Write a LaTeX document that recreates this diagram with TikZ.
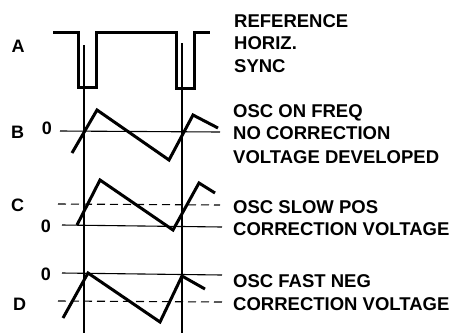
\documentclass[tikz,border=0pt]{standalone}
\usepackage{fontspec}
\setmainfont{Liberation Sans}
\begin{document}
\begin{tikzpicture}[x=1pt, y=-1pt,
    wave/.style={line width=3pt, line join=miter},
    axis/.style={line width=1.1pt},
    level/.style={line width=1.1pt, dash pattern=on 8pt off 5pt},
    lbl/.style={font=\bfseries\fontsize{18}{20}\selectfont, inner sep=0pt},
    txt/.style={lbl, font=\bfseries\fontsize{18.5}{20}\selectfont, anchor=base west}]
  \useasboundingbox (0,0) rectangle (455,333);
  % sync instants
  \draw[axis] (84,45) -- (84,333);
  \draw[axis] (182,43) -- (182,333);
  % A: reference horizontal sync
  \draw[wave] (53,32) -- (78,32) -- (78,87) -- (96,87) -- (96,32) -- (176,32)
    -- (176,88) -- (194,88) -- (194,32) -- (210,32);
  % B: on frequency
  \draw[axis] (60,131) -- (220,132);
  \draw[wave] (72,153) -- (97,110) -- (169,160) -- (193,115) -- (218,128);
  % C: slow
  \draw[level] (58,204) -- (220,205);
  \draw[axis] (62,225) -- (222,227);
  \draw[wave] (77,225) -- (100,180) -- (173,230) -- (199,183) -- (215,193);
  % D: fast
  \draw[axis] (62,273) -- (222,275);
  \draw[level] (58,301) -- (222,302);
  \draw[wave] (63,318) -- (88,273) -- (160,322) -- (182,276) -- (205,289);
  % row letters and zeros
  \node[lbl] (labA) at (18,46) {A};
  \node[lbl] (labB) at (17.5,132) {B};
  \node[lbl] (labC) at (17.5,205) {C};
  \node[lbl] (labD) at (19.5,304) {D};
  \node[lbl] (zeroB) at (47,128) {0};
  \node[lbl] (zeroC) at (46,226) {0};
  \node[lbl] (zeroD) at (46,274) {0};
  % captions
  \node[txt] (capA1) at (234,27) {REFERENCE};
  \node[txt] (capA2) at (234,49) {HORIZ.};
  \node[txt] (capA3) at (234,72) {SYNC};
  \node[txt] (capB1) at (233,117) {OSC ON FREQ};
  \node[txt] (capB2) at (233,139) {NO CORRECTION};
  \node[txt] (capB3) at (233,163) {VOLTAGE DEVELOPED};
  \node[txt] (capC1) at (233,213) {OSC SLOW POS};
  \node[txt] (capC2) at (233,235) {CORRECTION VOLTAGE};
  \node[txt] (capD1) at (233,287) {OSC FAST NEG};
  \node[txt] (capD2) at (233,310) {CORRECTION VOLTAGE};
\end{tikzpicture}
\end{document}
